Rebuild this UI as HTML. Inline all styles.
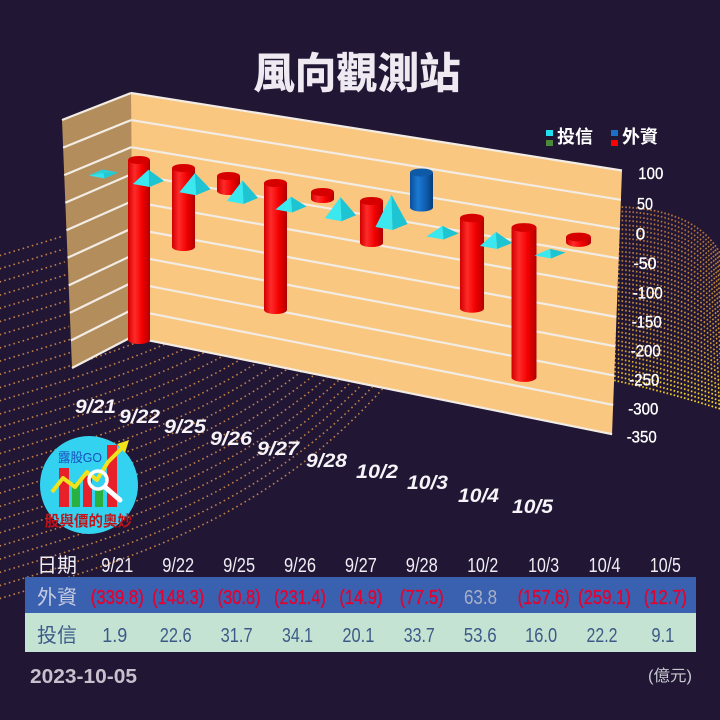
<!DOCTYPE html>
<html><head><meta charset="utf-8"><style>
html,body{margin:0;padding:0;background:#211634;}
svg{display:block;}
text{font-family:"Liberation Sans","Noto Sans CJK TC",sans-serif;}
</style></head><body>
<svg width="720" height="720" viewBox="0 0 720 720" xmlns="http://www.w3.org/2000/svg">
<defs>
<linearGradient id="rg" x1="0" x2="1" y1="0" y2="0">
<stop offset="0" stop-color="#d00000"/><stop offset="0.3" stop-color="#ff2a2a"/><stop offset="0.65" stop-color="#f20000"/><stop offset="1" stop-color="#b00000"/>
</linearGradient>
<linearGradient id="bg2" x1="0" x2="1" y1="0" y2="0">
<stop offset="0" stop-color="#0a4e9a"/><stop offset="0.35" stop-color="#1c7ad2"/><stop offset="0.7" stop-color="#0e5cae"/><stop offset="1" stop-color="#083c7a"/>
</linearGradient>
<linearGradient id="yg" gradientUnits="userSpaceOnUse" x1="0" y1="230" x2="0" y2="410">
<stop offset="0" stop-color="#b0703a"/><stop offset="0.65" stop-color="#d09a30"/><stop offset="1" stop-color="#ffe41e"/>
</linearGradient>
<clipPath id="lclip"><polygon points="0,235 63,235 72,368 132,338 612,436 612,720 0,720"/></clipPath>
<path id="lb" d="M-5,0 C150,-47 300,-90 430,-270"/>
</defs>
<rect width="720" height="720" fill="#211634"/>

<!-- left dotted band -->
<g clip-path="url(#lclip)" fill="none" stroke="#c08048" stroke-width="1.6" stroke-dasharray="1.6 3.2">
<use href="#lb" y="257"/><use href="#lb" y="270.2"/><use href="#lb" y="283.4"/><use href="#lb" y="296.6"/><use href="#lb" y="309.8"/><use href="#lb" y="323"/><use href="#lb" y="336.2"/><use href="#lb" y="349.4"/><use href="#lb" y="362.6"/><use href="#lb" y="375.8"/><use href="#lb" y="389"/><use href="#lb" y="402.2"/><use href="#lb" y="415.4"/><use href="#lb" y="428.6"/><use href="#lb" y="441.8"/><use href="#lb" y="455"/><use href="#lb" y="468.2"/><use href="#lb" y="481.4"/><use href="#lb" y="494.6"/><use href="#lb" y="507.8"/><use href="#lb" y="521"/><use href="#lb" y="534.2"/><use href="#lb" y="547.4"/><use href="#lb" y="560.6"/><use href="#lb" y="573.8"/><use href="#lb" y="587"/><use href="#lb" y="600"/>
</g>

<!-- right dotted band -->
<g fill="none" stroke="url(#yg)" stroke-width="1.8" stroke-dasharray="1.6 2">
<g id="rb">
<path d="M600,207 C665,205 705,222 722,257"/>
<path d="M600,215.7 C664.2,214.4 704.2,231.1 722,264.8"/>
<path d="M600,224.5 C663.4,223.7 703.4,240.2 722,272.6"/>
<path d="M600,233.2 C662.6,233.1 702.6,249.3 722,280.4"/>
<path d="M600,241.9 C661.8,242.5 701.8,258.4 722,288.2"/>
<path d="M600,250.7 C661.1,251.8 701.1,267.5 722,296"/>
<path d="M600,259.4 C660.3,261.2 700.3,276.6 722,303.7"/>
<path d="M600,268.2 C659.5,270.6 699.5,285.7 722,311.5"/>
<path d="M600,276.9 C658.7,280 698.7,294.8 722,319.3"/>
<path d="M600,285.6 C657.9,289.3 697.9,303.9 722,327.1"/>
<path d="M600,294.4 C657.1,298.7 697.1,313.1 722,334.9"/>
<path d="M600,303.1 C656.3,308 696.3,322.2 722,342.7"/>
<path d="M600,311.8 C655.5,317.4 695.5,331.3 722,350.5"/>
<path d="M600,320.6 C654.7,326.8 694.7,340.4 722,358.3"/>
<path d="M600,329.3 C653.9,336.2 693.9,349.5 722,366"/>
<path d="M600,338.1 C653.2,345.5 693.2,358.6 722,373.8"/>
<path d="M600,346.8 C652.4,354.9 692.4,367.7 722,381.6"/>
<path d="M600,355.5 C651.6,364.3 691.6,376.8 722,389.4"/>
<path d="M600,364.3 C650.8,373.6 690.8,385.9 722,397.2"/>
<path d="M600,373 C650,383 690,395 722,405"/>
</g>
<use href="#rb" y="4.4"/>
</g>

<!-- side wall -->
<polygon points="62,120 131,93 132,337 72,368" fill="#b38d5c"/>
<g stroke="#f2ece4" stroke-width="2.2">
<line x1="62" y1="120" x2="131" y2="93"/>
<line x1="63.1" y1="147.6" x2="131.1" y2="120.1"/>
<line x1="64.2" y1="175.1" x2="131.2" y2="147.2"/>
<line x1="65.3" y1="202.7" x2="131.3" y2="174.3"/>
<line x1="66.4" y1="230.2" x2="131.4" y2="201.4"/>
<line x1="67.6" y1="257.8" x2="131.5" y2="228.5"/>
<line x1="68.7" y1="285.4" x2="131.6" y2="255.6"/>
<line x1="69.8" y1="312.9" x2="131.7" y2="282.7"/>
<line x1="70.9" y1="340.5" x2="131.8" y2="309.8"/>
<line x1="72" y1="368" x2="131.9" y2="336.9"/>
</g>

<!-- back wall -->
<polygon points="131,93 622,170.5 612,435 132,337" fill="#f9c780"/>
<g stroke="#f2ece4" stroke-width="2.2">
<line x1="131" y1="93" x2="622" y2="170.5"/>
<line x1="131.1" y1="120.1" x2="620.9" y2="199.8"/>
<line x1="131.2" y1="147.2" x2="619.8" y2="229.1"/>
<line x1="131.3" y1="174.3" x2="618.7" y2="258.4"/>
<line x1="131.4" y1="201.4" x2="617.6" y2="287.7"/>
<line x1="131.5" y1="228.5" x2="616.5" y2="317"/>
<line x1="131.6" y1="255.6" x2="615.4" y2="346.3"/>
<line x1="131.7" y1="282.7" x2="614.3" y2="375.6"/>
<line x1="131.8" y1="309.8" x2="613.2" y2="404.9"/>
<line x1="131.9" y1="336.9" x2="612.1" y2="434.2"/>
</g>

<!-- cylinders (外資) -->
<g>
<path d="M128,160 L128,340 A11,4 0 0 0 150,340 L150,160 Z" fill="url(#rg)"/><ellipse cx="139" cy="160" rx="11" ry="4" fill="#d60000"/>
<path d="M172,168 L172,247 A11.5,4 0 0 0 195,247 L195,168 Z" fill="url(#rg)"/><ellipse cx="183.5" cy="168" rx="11.5" ry="4" fill="#d60000"/>
<path d="M217,176 L217,191 A11.5,4 0 0 0 240,191 L240,176 Z" fill="url(#rg)"/><ellipse cx="228.5" cy="176" rx="11.5" ry="4" fill="#d60000"/>
<path d="M264,183 L264,310 A11.5,4 0 0 0 287,310 L287,183 Z" fill="url(#rg)"/><ellipse cx="275.5" cy="183" rx="11.5" ry="4" fill="#d60000"/>
<path d="M311,192 L311,199 A11.5,4 0 0 0 334,199 L334,192 Z" fill="url(#rg)"/><ellipse cx="322.5" cy="192" rx="11.5" ry="4" fill="#d60000"/>
<path d="M360,201 L360,243 A11.5,4 0 0 0 383,243 L383,201 Z" fill="url(#rg)"/><ellipse cx="371.5" cy="201" rx="11.5" ry="4" fill="#d60000"/>
<path d="M410,172.5 L410,207.5 A11.5,4 0 0 0 433,207.5 L433,172.5 Z" fill="url(#bg2)"/><ellipse cx="421.5" cy="172.5" rx="11.5" ry="4" fill="#0e5aa6"/>
<path d="M460,218 L460,308.5 A12,4.2 0 0 0 484,308.5 L484,218 Z" fill="url(#rg)"/><ellipse cx="472" cy="218" rx="12" ry="4.2" fill="#d60000"/>
<path d="M511.5,227.5 L511.5,377.5 A12.5,4.4 0 0 0 536.5,377.5 L536.5,227.5 Z" fill="url(#rg)"/><ellipse cx="524" cy="227.5" rx="12.5" ry="4.4" fill="#d60000"/>
<path d="M566,237 L566,242.5 A12.5,4.4 0 0 0 591,242.5 L591,237 Z" fill="url(#rg)"/><ellipse cx="578.5" cy="237" rx="12.5" ry="4.4" fill="#d60000"/>
</g>

<!-- pyramids (投信) -->
<g stroke="none">
<polygon points="103.5,172.9 88.5,175.5 102.5,169.5 118.5,172.5" fill="#27d0da"/><polygon points="103.5,172.9 88.5,175.5 104.5,178.5" fill="#34e2ec"/><polygon points="103.5,172.9 104.5,178.5 118.5,172.5" fill="#22c8d4"/>
<polygon points="148.5,169.8 133,184 147.5,178 164,181" fill="#27d0da"/><polygon points="148.5,169.8 133,184 149.5,187" fill="#3ce8f0"/><polygon points="148.5,169.8 149.5,187 164,181" fill="#1fc4d2"/>
<polygon points="195,173.1 179.5,192.3 194,186.3 210.5,189.3" fill="#27d0da"/><polygon points="195,173.1 179.5,192.3 196,195.3" fill="#3ce8f0"/><polygon points="195,173.1 196,195.3 210.5,189.3" fill="#1fc4d2"/>
<polygon points="242.5,180.5 227,201 241.5,195 258,198" fill="#27d0da"/><polygon points="242.5,180.5 227,201 243.5,204" fill="#3ce8f0"/><polygon points="242.5,180.5 243.5,204 258,198" fill="#1fc4d2"/>
<polygon points="291,196.7 275.5,209.5 290,203.5 306.5,206.5" fill="#27d0da"/><polygon points="291,196.7 275.5,209.5 292,212.5" fill="#3ce8f0"/><polygon points="291,196.7 292,212.5 306.5,206.5" fill="#1fc4d2"/>
<polygon points="340.5,197.3 325,218.2 339.5,212.2 356,215.2" fill="#27d0da"/><polygon points="340.5,197.3 325,218.2 341.5,221.2" fill="#3ce8f0"/><polygon points="340.5,197.3 341.5,221.2 356,215.2" fill="#1fc4d2"/>
<polygon points="391.5,195 375.5,227 390.5,221 407.5,224" fill="#27d0da"/><polygon points="391.5,195 375.5,227 392.5,230" fill="#3ce8f0"/><polygon points="391.5,195 392.5,230 407.5,224" fill="#1fc4d2"/>
<polygon points="442.5,226 426.5,236.5 441.5,230.5 458.5,233.5" fill="#27d0da"/><polygon points="442.5,226 426.5,236.5 443.5,239.5" fill="#3ce8f0"/><polygon points="442.5,226 443.5,239.5 458.5,233.5" fill="#1fc4d2"/>
<polygon points="496,232 480,246 495,240 512,243" fill="#27d0da"/><polygon points="496,232 480,246 497,249" fill="#3ce8f0"/><polygon points="496,232 497,249 512,243" fill="#1fc4d2"/>
<polygon points="550,248.9 534.5,255.5 549,249.5 565.5,252.5" fill="#27d0da"/><polygon points="550,248.9 534.5,255.5 551,258.5" fill="#3ce8f0"/><polygon points="550,248.9 551,258.5 565.5,252.5" fill="#1fc4d2"/>
</g>

<!-- title -->
<text x="357" y="88" font-size="42" font-weight="700" fill="#efeaf2" text-anchor="middle" textLength="207" lengthAdjust="spacingAndGlyphs" stroke="#efeaf2" stroke-width="0.6">風向觀測站</text>

<!-- legend -->
<rect x="546" y="130" width="7" height="6" fill="#20e0f0"/>
<rect x="546" y="140" width="7" height="6" fill="#4a8a3a"/>
<text x="557" y="143" font-size="18" font-weight="700" fill="#ffffff" textLength="36" lengthAdjust="spacingAndGlyphs">投信</text>
<rect x="611" y="130" width="7" height="6" fill="#1a70c8"/>
<rect x="611" y="140" width="7" height="6" fill="#ff0000"/>
<text x="622" y="143" font-size="18" font-weight="700" fill="#ffffff" textLength="36" lengthAdjust="spacingAndGlyphs">外資</text>

<!-- y axis labels -->
<g font-size="17" fill="#ffffff" stroke="#ffffff" stroke-width="0.35">
<text x="638.3" y="179" textLength="25" lengthAdjust="spacingAndGlyphs">100</text>
<text x="637" y="209.3" textLength="16" lengthAdjust="spacingAndGlyphs">50</text>
<text x="635.8" y="239.3">0</text>
<text x="633.5" y="269" textLength="23" lengthAdjust="spacingAndGlyphs">-50</text>
<text x="632.7" y="298.7" textLength="30" lengthAdjust="spacingAndGlyphs">-100</text>
<text x="631.7" y="327.7" textLength="30" lengthAdjust="spacingAndGlyphs">-150</text>
<text x="630.7" y="356.7" textLength="30" lengthAdjust="spacingAndGlyphs">-200</text>
<text x="629.3" y="385.3" textLength="30" lengthAdjust="spacingAndGlyphs">-250</text>
<text x="628.3" y="414.3" textLength="30" lengthAdjust="spacingAndGlyphs">-300</text>
<text x="626.7" y="442.7" textLength="30" lengthAdjust="spacingAndGlyphs">-350</text>
</g>

<!-- x axis labels -->
<g font-size="19" font-weight="700" font-style="italic" fill="#f6f4f8">
<text x="75" y="413" textLength="41" lengthAdjust="spacingAndGlyphs">9/21</text>
<text x="119" y="423" textLength="41" lengthAdjust="spacingAndGlyphs">9/22</text>
<text x="164" y="433" textLength="42" lengthAdjust="spacingAndGlyphs">9/25</text>
<text x="210" y="445" textLength="42" lengthAdjust="spacingAndGlyphs">9/26</text>
<text x="257" y="455" textLength="42" lengthAdjust="spacingAndGlyphs">9/27</text>
<text x="306" y="467" textLength="41" lengthAdjust="spacingAndGlyphs">9/28</text>
<text x="356" y="478" textLength="42" lengthAdjust="spacingAndGlyphs">10/2</text>
<text x="407" y="489" textLength="41" lengthAdjust="spacingAndGlyphs">10/3</text>
<text x="458" y="502" textLength="41" lengthAdjust="spacingAndGlyphs">10/4</text>
<text x="512" y="513" textLength="41" lengthAdjust="spacingAndGlyphs">10/5</text>
</g>

<!-- logo -->
<g>
<circle cx="89" cy="485" r="49" fill="#33d2f0"/>
<rect x="59" y="468" width="10" height="39" fill="#e8202a"/>
<rect x="72" y="483" width="8" height="24" fill="#2ab040"/>
<rect x="83" y="476" width="9" height="31" fill="#e8202a"/>
<rect x="95" y="487" width="8" height="20" fill="#2ab040"/>
<rect x="107" y="445" width="10" height="62" fill="#e8202a"/>
<polyline points="52,492 63,478 75,487 87,472 97,480 108,462 123,447" fill="none" stroke="#f2e21c" stroke-width="4" stroke-linejoin="round"/>
<polygon points="129,440 117,444 125,453" fill="#f2e21c"/>
<circle cx="98" cy="480" r="9" fill="none" stroke="#ffffff" stroke-width="3.5"/>
<line x1="105" y1="487" x2="120" y2="500" stroke="#ffffff" stroke-width="5" stroke-linecap="round"/>
<text x="58" y="462" font-size="13" fill="#1a4fc0" textLength="44" lengthAdjust="spacingAndGlyphs">露股GO</text>
<text x="45" y="526" font-size="15" fill="#c0141c" font-weight="700" textLength="87" lengthAdjust="spacingAndGlyphs">股與價的奧妙</text>
</g>

<!-- table -->
<rect x="25" y="577" width="671" height="36" fill="#3a60b0"/>
<rect x="25" y="613" width="671" height="39" fill="#c5e3d3"/>
<g font-size="20" fill="#f0eef4" text-anchor="middle">
<text x="57" y="572" textLength="40" lengthAdjust="spacingAndGlyphs">日期</text>
<text x="117.3" y="572" textLength="32" lengthAdjust="spacingAndGlyphs">9/21</text>
<text x="178.2" y="572" textLength="32" lengthAdjust="spacingAndGlyphs">9/22</text>
<text x="239.1" y="572" textLength="32" lengthAdjust="spacingAndGlyphs">9/25</text>
<text x="300" y="572" textLength="32" lengthAdjust="spacingAndGlyphs">9/26</text>
<text x="360.9" y="572" textLength="32" lengthAdjust="spacingAndGlyphs">9/27</text>
<text x="421.8" y="572" textLength="32" lengthAdjust="spacingAndGlyphs">9/28</text>
<text x="482.7" y="572" textLength="31" lengthAdjust="spacingAndGlyphs">10/2</text>
<text x="543.6" y="572" textLength="31" lengthAdjust="spacingAndGlyphs">10/3</text>
<text x="604.5" y="572" textLength="32" lengthAdjust="spacingAndGlyphs">10/4</text>
<text x="665.4" y="572" textLength="31" lengthAdjust="spacingAndGlyphs">10/5</text>
</g>
<g font-size="20" text-anchor="middle">
<text x="57" y="604" fill="#c8cce0" textLength="40" lengthAdjust="spacingAndGlyphs">外資</text>
<g fill="#e6002e" stroke="#e6002e" stroke-width="0.3">
<text x="117.3" y="604" textLength="53" lengthAdjust="spacingAndGlyphs">(339.8)</text>
<text x="178.2" y="604" textLength="52" lengthAdjust="spacingAndGlyphs">(148.3)</text>
<text x="239.1" y="604" textLength="43" lengthAdjust="spacingAndGlyphs">(30.8)</text>
<text x="300" y="604" textLength="52" lengthAdjust="spacingAndGlyphs">(231.4)</text>
<text x="360.9" y="604" textLength="43" lengthAdjust="spacingAndGlyphs">(14.9)</text>
<text x="421.8" y="604" textLength="44" lengthAdjust="spacingAndGlyphs">(77.5)</text>
<text x="543.6" y="604" textLength="52" lengthAdjust="spacingAndGlyphs">(157.6)</text>
<text x="604.5" y="604" textLength="53" lengthAdjust="spacingAndGlyphs">(259.1)</text>
<text x="665.4" y="604" textLength="43" lengthAdjust="spacingAndGlyphs">(12.7)</text>
</g>
<text x="480.5" y="604" fill="#a8b0c4" textLength="33" lengthAdjust="spacingAndGlyphs">63.8</text>
</g>
<g font-size="20" text-anchor="middle" fill="#3c5a88">
<text x="57" y="642" textLength="40" lengthAdjust="spacingAndGlyphs">投信</text>
<text x="114.8" y="642" textLength="25" lengthAdjust="spacingAndGlyphs">1.9</text>
<text x="175.7" y="642" textLength="32" lengthAdjust="spacingAndGlyphs">22.6</text>
<text x="236.6" y="642" textLength="32" lengthAdjust="spacingAndGlyphs">31.7</text>
<text x="297.5" y="642" textLength="31" lengthAdjust="spacingAndGlyphs">34.1</text>
<text x="358.4" y="642" textLength="32" lengthAdjust="spacingAndGlyphs">20.1</text>
<text x="419.3" y="642" textLength="31" lengthAdjust="spacingAndGlyphs">33.7</text>
<text x="480.2" y="642" textLength="33" lengthAdjust="spacingAndGlyphs">53.6</text>
<text x="541.1" y="642" textLength="32" lengthAdjust="spacingAndGlyphs">16.0</text>
<text x="602" y="642" textLength="31" lengthAdjust="spacingAndGlyphs">22.2</text>
<text x="662.9" y="642" textLength="23" lengthAdjust="spacingAndGlyphs">9.1</text>
</g>

<!-- footer -->
<text x="30" y="683" font-size="20" font-weight="700" fill="#c8c0cc" textLength="107" lengthAdjust="spacingAndGlyphs">2023-10-05</text>
<text x="648" y="681" font-size="16" fill="#c8c8d0" textLength="44" lengthAdjust="spacingAndGlyphs">(億元)</text>
</svg>
</body></html>
